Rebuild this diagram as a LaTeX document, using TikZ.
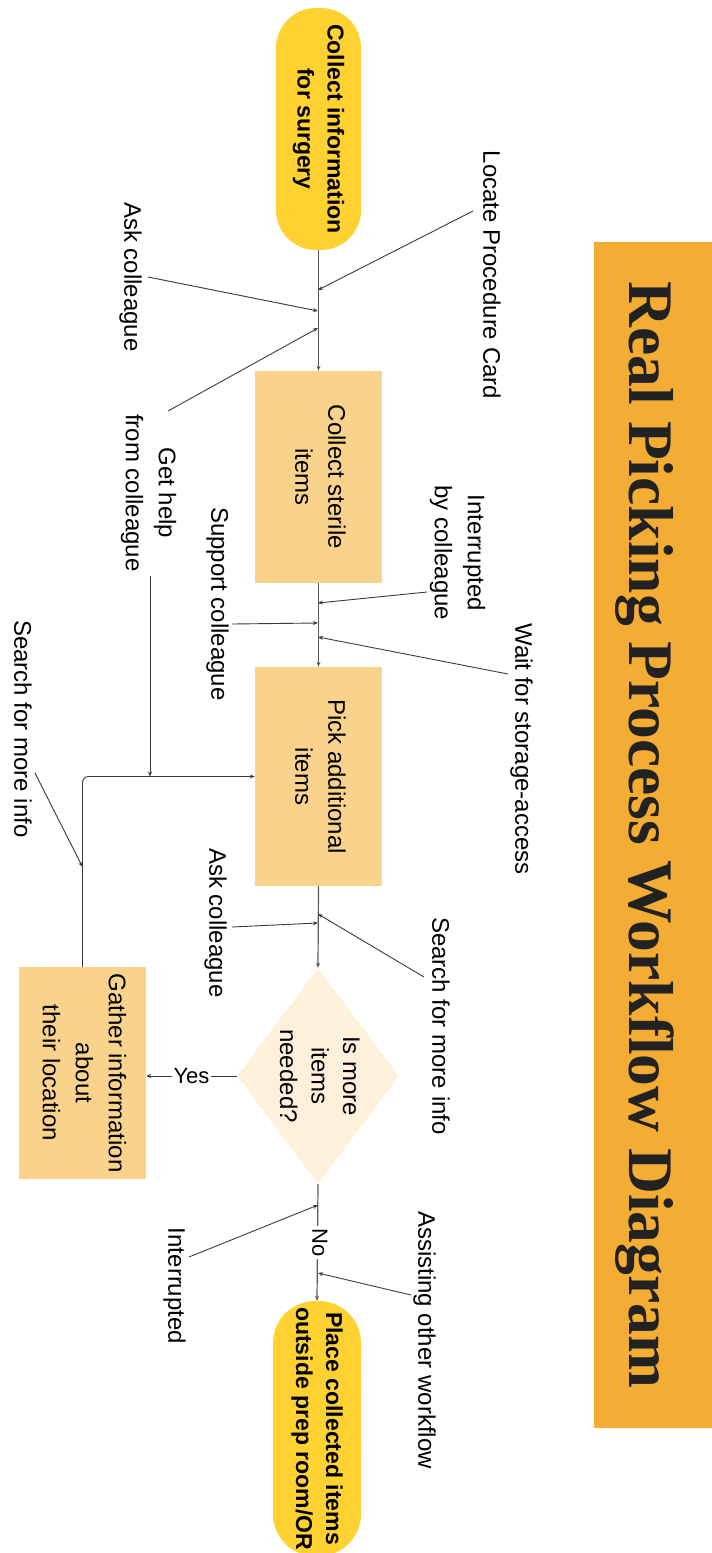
\documentclass[tikz,border=0pt]{standalone}
\usepackage{fontspec}
\setmainfont{Liberation Sans}
\newfontfamily\titlefont{Liberation Serif}
\usetikzlibrary{shapes.geometric,arrows.meta}
\definecolor{pillc}{HTML}{FFD232}
\definecolor{boxc}{HTML}{F9D38B}
\definecolor{decc}{HTML}{FEF0DA}
\definecolor{titlebg}{HTML}{F3AC34}
\definecolor{titletext}{HTML}{222222}
\definecolor{linec}{HTML}{3A3A3A}
\definecolor{mainc}{HTML}{5A5A5A}
% text set to read from top to bottom
\newcommand{\rottext}[1]{\rotatebox{-90}{\begin{tabular}{@{}c@{}}#1\end{tabular}}}
\begin{document}
\begin{tikzpicture}[x=1pt,y=-1pt,
  every node/.style={font=\fontsize{24}{33}\selectfont, inner sep=0pt},
  pillbox/.style={rectangle, rounded corners=40pt, fill=pillc,
    font=\bfseries\fontsize{23}{30}\selectfont},
  stepbox/.style={rectangle, fill=boxc, minimum width=127pt},
  decision/.style={diamond, fill=decc, minimum width=162pt, minimum height=216pt},
  answer/.style={fill=white, inner sep=2pt, font=\fontsize{22}{26}\selectfont},
  arr/.style={draw=linec, line width=0.9pt, -{Stealth[length=5pt,width=4pt]}},
  mainarr/.style={draw=mainc, line width=1.2pt, -{Stealth[length=5pt,width=4pt]}},
]
\useasboundingbox (0,0) rectangle (712,1553);

% title banner
\node[fill=titlebg, minimum width=118pt, minimum height=1186pt] (bar) at (653,835) {};
\node[rotate=-90, text=titletext, font=\titlefont\bfseries\fontsize{63.5}{70}\selectfont]
  (title) at (645,835) {Real Picking Process Workflow Diagram};

% process shapes
\node[pillbox, minimum width=85pt, minimum height=242pt] (start) at (318.5,129)
  {\rottext{Collect information\\for surgery}};
\node[stepbox, minimum height=212pt] (sterile) at (318.5,477)
  {\rottext{Collect sterile\\items}};
\node[stepbox, minimum height=219pt] (pick) at (318.5,776.5)
  {\rottext{Pick additional\\items}};
\node[decision] (dec) at (318,1076) {};
\node[font=\fontsize{24}{31.5}\selectfont] (dectext) at (dec.center)
  {\rottext{Is more\\items\\needed?}};
\node[stepbox, minimum height=212pt] (gather) at (82.5,1073)
  {\rottext{Gather information\\about\\their location}};
\node[pillbox, rounded corners=42pt, minimum width=88pt, minimum height=255pt] (finish) at (317,1428.5)
  {\rottext{Place collected items\\outside prep room/OR}};

% main flow
\draw[mainarr] (start.south) -- (sterile.north);
\draw[mainarr] (sterile.south) -- (pick.north);
\draw[mainarr] (pick.south) -- (dec.north);
\draw[mainarr] (dec.south) -- node[answer] (no) {\rottext{No}} (finish.north);
\draw[arr] (dec.west) -- node[answer] (yes) {Yes} (dec.west -| gather.east);
\draw[arr, rounded corners=6pt] (gather.north) |- (pick.west);

% side events
\node (locate) at (490,275) {\rottext{Locate Procedure Card}};
\node (ask1) at (131,277) {\rottext{Ask colleague}};
\node (gethelp) at (149,493) {\rottext{Get help\\from colleague}};
\node (intcol) at (458,553) {\rottext{Interrupted\\by colleague}};
\node (support) at (218,604) {\rottext{Support colleague}};
\node (waitsa) at (522,749) {\rottext{Wait for storage-access}};
\node (ask2) at (216,923) {\rottext{Ask colleague}};
\node (searchr) at (439,1026) {\rottext{Search for more info}};
\node (searchl) at (21,729) {\rottext{Search for more info}};
\node (intr) at (175,1286) {\rottext{Interrupted}};
\node (assist) at (425,1340) {\rottext{Assisting other workflow}};

% connector end points
\coordinate (locS) at (473,211);   \coordinate (locE) at (318,290);
\coordinate (ask1S) at (148,277);  \coordinate (ask1E) at (318,311);
\coordinate (helpS) at (168,411);  \coordinate (helpE) at (318,328);
\coordinate (helpV) at (150,576);  \coordinate (helpVE) at (150,776.5);
\coordinate (intcolS) at (427,592); \coordinate (intcolE) at (318,603);
\coordinate (supS) at (232,624);   \coordinate (supE) at (318,623);
\coordinate (waitS) at (508,674);  \coordinate (waitE) at (318,637);
\coordinate (ask2S) at (232,927);  \coordinate (ask2E) at (318,923);
\coordinate (srS) at (424,977);    \coordinate (srE) at (318,914);
\coordinate (slS) at (35,773);     \coordinate (slE) at (82.5,867);
\coordinate (intS) at (189,1257);  \coordinate (intE) at (318,1205);
\coordinate (asS) at (411,1295);   \coordinate (asE) at (318,1273);

\draw[arr] (locS) -- (locE);
\draw[arr] (ask1S) -- (ask1E);
\draw[arr] (helpS) -- (helpE);
\draw[arr] (helpV) -- (helpVE);
\draw[arr] (intcolS) -- (intcolE);
\draw[arr] (supS) -- (supE);
\draw[arr] (waitS) -- (waitE);
\draw[arr] (ask2S) -- (ask2E);
\draw[arr] (srS) -- (srE);
\draw[arr] (slS) -- (slE);
\draw[arr] (intS) -- (intE);
\draw[arr] (asS) -- (asE);
\end{tikzpicture}
\end{document}
